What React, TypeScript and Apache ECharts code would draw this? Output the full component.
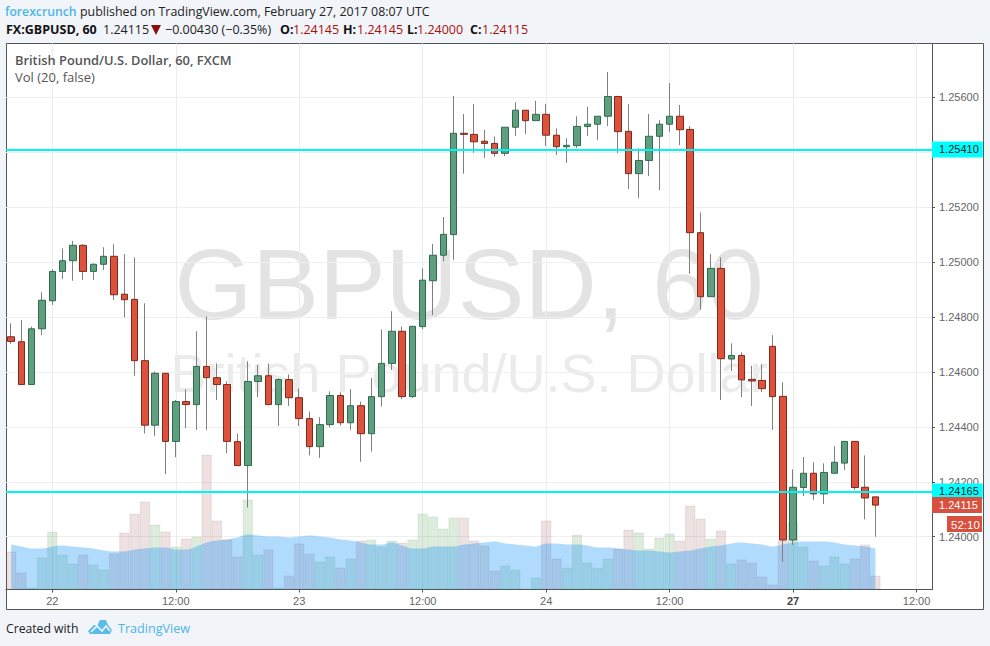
import React, { useEffect, useRef } from "react";
import * as echarts from "echarts";

const opens = [1.24728,1.2471,1.24554,1.24757,1.24859,1.24966,1.25005,1.25061,1.24966,1.24992,1.25021,1.24883,1.24864,1.24641,1.24406,1.24595,1.24347,1.24492,1.24481,1.2462,1.24579,1.24554,1.24346,1.24259,1.24565,1.24586,1.24481,1.24572,1.24506,1.2443,1.24328,1.24408,1.24514,1.24415,1.24477,1.24375,1.2451,1.24631,1.24748,1.2451,1.24765,1.24932,1.25025,1.251,1.25469,1.25465,1.2544,1.25432,1.25396,1.25491,1.25553,1.25515,1.25538,1.25462,1.2542,1.25424,1.25494,1.25502,1.25531,1.25603,1.25476,1.25322,1.2537,1.25458,1.25502,1.25531,1.25483,1.25107,1.24874,1.24977,1.24647,1.2466,1.24573,1.24569,1.24693,1.24511,1.23988,1.24179,1.24231,1.24156,1.24231,1.24268,1.24347,1.2418,1.24145];
const highs = [1.24777,1.24789,1.24765,1.2489,1.24974,1.2505,1.25077,1.25065,1.24995,1.25054,1.25065,1.25029,1.25017,1.2485,1.24601,1.24595,1.24498,1.24537,1.24748,1.24802,1.24631,1.24566,1.24376,1.24639,1.24625,1.24631,1.24577,1.24591,1.2454,1.24456,1.24435,1.24529,1.24526,1.24537,1.24492,1.24577,1.24755,1.24821,1.24765,1.24768,1.24977,1.25066,1.25164,1.25605,1.25539,1.25576,1.25481,1.25457,1.25491,1.25582,1.25553,1.25587,1.25576,1.25487,1.25451,1.25531,1.25565,1.25531,1.25692,1.25603,1.25576,1.25414,1.25539,1.25517,1.25652,1.25572,1.25495,1.25181,1.25029,1.25017,1.24704,1.24671,1.24622,1.24628,1.24734,1.24562,1.24245,1.2429,1.24271,1.24267,1.24329,1.24347,1.24347,1.24296,1.24145];
const lows = [1.24702,1.24554,1.24554,1.24734,1.24844,1.24938,1.24932,1.24935,1.24935,1.24971,1.24862,1.24799,1.24586,1.24376,1.24367,1.24228,1.24289,1.24396,1.24389,1.24389,1.24498,1.24304,1.24259,1.24106,1.24508,1.24481,1.24403,1.24476,1.24403,1.24296,1.24287,1.24398,1.24404,1.24389,1.24273,1.2431,1.24474,1.24607,1.24501,1.24506,1.24756,1.24807,1.25002,1.25008,1.25322,1.25398,1.25379,1.25384,1.25386,1.25459,1.25466,1.25515,1.25423,1.2539,1.25361,1.25415,1.25459,1.25444,1.25495,1.25397,1.25266,1.25233,1.25313,1.25262,1.25474,1.25426,1.24957,1.24826,1.24874,1.24498,1.24603,1.24508,1.24476,1.24527,1.24389,1.23908,1.2397,1.24148,1.24134,1.24119,1.24228,1.24243,1.2417,1.24063,1.24];
const closes = [1.24711,1.24554,1.24757,1.24861,1.24966,1.25005,1.25061,1.24966,1.24992,1.25021,1.24881,1.24863,1.24641,1.24406,1.24595,1.24347,1.24492,1.24481,1.2462,1.24579,1.24554,1.24347,1.24259,1.24565,1.24586,1.24481,1.24572,1.24506,1.2443,1.24328,1.24408,1.24514,1.24415,1.24477,1.24375,1.2451,1.24631,1.24748,1.2451,1.24766,1.24934,1.25025,1.25101,1.25469,1.25465,1.25438,1.25432,1.25396,1.25491,1.25553,1.25515,1.25538,1.25462,1.2542,1.25425,1.25494,1.25502,1.25531,1.25603,1.25475,1.25322,1.2537,1.25458,1.25502,1.25531,1.25482,1.25107,1.24874,1.24977,1.24648,1.2466,1.24571,1.24567,1.24539,1.2451,1.23988,1.2418,1.24231,1.24156,1.24234,1.24271,1.24347,1.24179,1.24141,1.24115];
const volumes = [38,17,2,32,58,35,26,35,25,20,36,57,76,88,65,58,43,51,53,135,69,50,33,90,35,40,2,14,46,36,28,33,22,31,49,50,43,49,47,50,76,73,61,72,72,49,44,19,24,20,1,12,69,31,22,55,27,22,31,41,60,57,41,52,56,49,84,71,51,59,26,30,27,13,5,49,67,43,29,24,33,26,31,45,14];
const volumeMA = [45,43,41,41,43,44,43,42,41,39,38,38,40,41,42,42,40,40,43,47,49,50,52,55,54,53,53,52,53,54,53,52,50,49,47,45,45,47,44,41,41,43,43,43,45,46,47,48,46,45,44,43,46,46,45,45,44,42,42,41,40,39,39,38,37,38,39,41,43,44,46,47,46,45,43,45,47,48,48,48,47,45,44,43,41];
const priceTicks = [1.24,1.242,1.244,1.246,1.248,1.25,1.252,1.254,1.256];
const priceLabels = [1.24,1.242,1.244,1.246,1.248,1.25,1.252,1.256];
const timeLabels: Record<number, string> = { 4: "22", 16: "12:00", 28: "23", 40: "12:00", 52: "24", 64: "12:00", 76: "27", 88: "12:00" };
const categories = Array.from({ length: 90 }, (_, i) => timeLabels[i] ?? "");
const levelLines = [1.2541, 1.24165];
const lastPrice = 1.24115;
const countdown = "52:10";
const sans = '"Liberation Sans", Arial, sans-serif';
const ui = '"Open Sans", sans-serif';

function t(text: string, x: number, y: number, font: string, fill: string, z = 10) {
  return { type: "text", z, x, y, silent: true, style: { text, font, fill, verticalAlign: "middle" } };
}

export default function App() {
  const ref = useRef<HTMLDivElement>(null);
  useEffect(() => {
    document.body.style.margin = "0";
    const chart = echarts.init(ref.current!, null, { renderer: "svg" });
    const isTick = (i: number) => !!categories[i];
    const tag = (bg: string, color: string) => ({
      show: true, position: "end", distance: 0, color, backgroundColor: bg,
      fontFamily: sans, fontSize: 11, padding: [3, 4, 2, 7],
    });
    const row2 = 29;
    chart.setOption({
      animation: false,
      backgroundColor: "#f1f4f8",
      textStyle: { fontFamily: sans },
      grid: { left: 6, width: 926, top: 43.5, height: 546 },
      xAxis: {
        type: "category", data: categories, boundaryGap: true,
        axisLine: { lineStyle: { color: "#555", width: 1 } },
        axisTick: { show: true, interval: (i: number) => isTick(i), alignWithLabel: true, length: 3, lineStyle: { color: "#555" } },
        splitLine: { show: true, interval: (i: number) => isTick(i), alignWithLabel: true, lineStyle: { color: "#ececec", width: 1 } } as any,
        axisLabel: {
          interval: (i: number) => isTick(i), margin: 6, color: "#666", fontSize: 11, fontFamily: sans,
          formatter: (v: string) => (v === "27" ? "{b|27}" : v),
          rich: { b: { fontWeight: "bold", color: "#444", fontSize: 11, fontFamily: sans } },
        },
      },
      yAxis: [
        {
          type: "value", position: "right", min: 1.238077, max: 1.257959, scale: true,
          axisLine: { show: true, lineStyle: { color: "#555", width: 1 } },
          axisTick: { show: true, length: 3, customValues: priceTicks, lineStyle: { color: "#555" } },
          splitLine: { show: true, lineStyle: { color: "#efefef", width: 1 } },
          axisLabel: { customValues: priceLabels, margin: 7, padding: [3, 0, 0, 0], color: "#666", fontSize: 11, fontFamily: sans, formatter: (v: number) => v.toFixed(5) },
        },
        { type: "value", min: 0, max: 546, show: false },
      ],
      series: [
        {
          name: "Volume", type: "bar", yAxisIndex: 1, barWidth: "100%", z: 1,
          data: volumes.map((v, i) => ({
            value: v,
            itemStyle: closes[i] >= opens[i]
              ? { color: "rgba(60,140,60,0.17)", borderColor: "rgba(60,140,60,0.12)", borderWidth: 1 }
              : { color: "rgba(140,70,70,0.16)", borderColor: "rgba(140,70,70,0.12)", borderWidth: 1 },
          })),
        },
        {
          name: "Vol MA", type: "line", yAxisIndex: 1, z: 2, smooth: 0.3, showSymbol: false, data: volumeMA,
          lineStyle: { width: 0 }, areaStyle: { color: "rgb(4,140,250)", opacity: 0.31 },
        },
        {
          name: "Wick", type: "candlestick", z: 3, barWidth: 1,
          data: opens.map((o, i) => [o, closes[i], lows[i], highs[i]]),
          itemStyle: { color: "#808080", color0: "#808080", borderColor: "#808080", borderColor0: "#808080", borderWidth: 1 },
        },
        {
          name: "GBPUSD", type: "candlestick", z: 4, barWidth: 7,
          data: opens.map((o, i) => [o, closes[i], Math.min(o, closes[i]), Math.max(o, closes[i])]),
          itemStyle: { color: "#5f9f7f", color0: "#dd523c", borderColor: "#2f6b4e", borderColor0: "#7c2a1c", borderWidth: 1 },
          markLine: {
            silent: true, symbol: "none", animation: false, z: 6, precision: 5,
            lineStyle: { color: "#00f5f5", width: 2, type: "solid" },
            data: [
              ...levelLines.map((v) => ({ yAxis: v, label: { ...tag("#00ffff", "#222"), formatter: v.toFixed(5) } })),
              { yAxis: lastPrice, lineStyle: { color: "rgba(0,0,0,0)", width: 0 }, label: { ...tag("#d9503f", "#fff"), formatter: lastPrice.toFixed(5) } },
            ],
          },
        },
      ],
      graphic: [
        { type: "rect", z: -10, silent: true, shape: { x: 6.5, y: 43.5, width: 977, height: 566 }, style: { fill: "#fff", stroke: "#555", lineWidth: 1 } },
        { type: "text", z: -5, silent: true, x: 469, y: 284, style: { text: "GBPUSD, 60", font: `100px ${sans}`, fill: "#e3e3e3", align: "center", verticalAlign: "middle" } },
        { type: "text", z: -5, silent: true, x: 469, y: 373, style: { text: "British Pound/U.S. Dollar", font: `54px ${sans}`, fill: "#ebebeb", align: "center", verticalAlign: "middle" } },
        t("forexcrunch", 5, 11, `600 12.2px ${ui}`, "#4db6e8"),
        t("published on TradingView.com, February 27, 2017 08:07 UTC", 80, 11, `12.4px ${ui}`, "#222"),
        t("FX:GBPUSD, 60", 6, row2, `bold 12.5px ${ui}`, "#111"),
        t("1.24115", 103, row2, `12.5px ${ui}`, "#222"),
        { type: "polygon", z: 10, silent: true, shape: { points: [[151, 25], [161, 25], [156, 35]] }, style: { fill: "#8b0d0d" } },
        t("−0.00430 (−0.35%)", 165, row2, `12.5px ${ui}`, "#222"),
        t("O:", 280, row2, `bold 12.5px ${ui}`, "#111"),
        t("1.24145", 293, row2, `12.5px ${ui}`, "#a80f0f"),
        t("H:", 343, row2, `bold 12.5px ${ui}`, "#111"),
        t("1.24145", 357, row2, `12.5px ${ui}`, "#a80f0f"),
        t("L:", 407, row2, `bold 12.5px ${ui}`, "#111"),
        t("1.24000", 417, row2, `12.5px ${ui}`, "#a80f0f"),
        t("C:", 470, row2, `bold 12.5px ${ui}`, "#111"),
        t("1.24115", 482, row2, `12.5px ${ui}`, "#a80f0f"),
        t("British Pound/U.S. Dollar, 60, FXCM", 15, 60, `600 12.85px ${ui}`, "#555"),
        t("Vol (20, false)", 15, 77, `13px ${ui}`, "#555"),
        { type: "rect", z: 10, silent: true, shape: { x: 947, y: 516, width: 35, height: 16 }, style: { fill: "#d9503f" } },
        t(countdown, 951, 524.5, `11.5px ${sans}`, "#fff", 11),
        t("Created with", 6, 628, `12.2px ${ui}`, "#222"),
        { type: "polygon", z: 10, silent: true, shape: { points: [[88, 631], [94, 625], [97, 626], [100, 620], [106, 620], [108, 625], [112, 630], [110, 634], [90, 634]] }, style: { fill: "#5cbce8" } },
        { type: "polyline", z: 11, silent: true, shape: { points: [[91, 632], [97, 626], [102, 631], [106, 626], [110, 631]] }, style: { stroke: "#f1f4f8", lineWidth: 1.6, fill: "none" } },
        t("TradingView", 118, 628, `12.6px ${ui}`, "#4db6e8"),
      ],
    });
    return () => chart.dispose();
  }, []);
  return <div ref={ref} style={{ position: "fixed", left: 0, top: 0, width: 990, height: 646 }} />;
}
